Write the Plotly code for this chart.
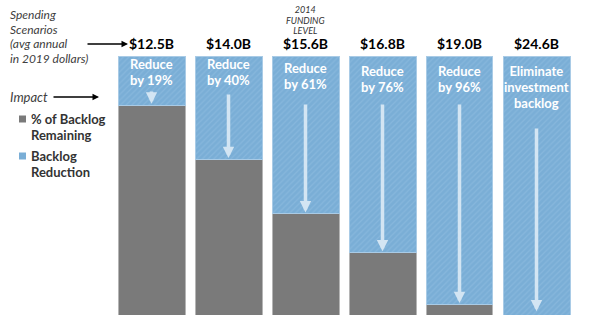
import plotly.graph_objects as go

scenarios = ["$12.5B", "$14.0B", "$15.6B", "$16.8B", "$19.0B", "$24.6B"]
reduction_pct = [19, 40, 61, 76, 96, 100]
remaining_pct = [81, 60, 39, 24, 4, 0]
bar_labels = [["Reduce", "by 19%"], ["Reduce", "by 40%"], ["Reduce", "by 61%"],
              ["Reduce", "by 76%"], ["Reduce", "by 96%"],
              ["Eliminate", "investment", "backlog"]]
funding_note = ["2014", "FUNDING", "LEVEL"]
funding_idx = 2
left_note = ["Spending", "Scenarios", "(avg annual", "in 2019 dollars)"]
legend_items = [["% of Backlog", "Remaining"], ["Backlog", "Reduction"]]

W, H = 589, 333
FONT = "Lato, 'Open Sans', sans-serif"
BLUE = "#7aaed6"
GRAY = "#7a7a7a"
ARROW = "#d3e5f3"

# style: pixel position of the first label line in each bar, and arrow tail (px)
label_top_px = [64, 64, 68, 71, 71, 71]
arrow_tail_px = [90, 93, 103, 103, 103, 127]
BAR_TOP, BAR_BOT = 56, 315

x = list(range(len(scenarios)))

fig = go.Figure()
fig.add_trace(go.Bar(
    x=x, y=remaining_pct, name="% of Backlog Remaining",
    marker=dict(color=GRAY, line=dict(color="#b5b5b5", width=1)),
    hoverinfo="skip",
))
fig.add_trace(go.Bar(
    x=x, y=reduction_pct, name="Backlog Reduction",
    marker=dict(color=BLUE, line=dict(color="#a9cbe6", width=1),
                pattern=dict(shape="/", fgcolor="#93c0e2", size=4, solidity=0.3,
                             fillmode="overlay")),
    hoverinfo="skip",
))

x0, x1 = 113 / W, 575 / W
y0, y1 = (H - BAR_BOT) / H, (H - BAR_TOP) / H


def py(px):
    return 1 - px / H


def px_to_val(px):
    return (BAR_BOT - px) / (BAR_BOT - BAR_TOP) * 100


annotations = []


def add_block(xv, xref, top_px, lines, spacing, size, color, xanchor="center",
              align="center", wrap=("", "")):
    """One annotation for several lines: line pitch set by the annotation font size,
    glyph size set by an inner span."""
    n = len(lines)
    body = "<br>".join(f'<span style="font-size:{size}px">{wrap[0]}{t}{wrap[1]}</span>'
                       for t in lines)
    annotations.append(dict(x=xv, y=py(top_px + (n - 1) * spacing / 2), xref=xref,
                            yref="paper", text=body, showarrow=False, xanchor=xanchor,
                            yanchor="middle", align=align, borderpad=0,
                            font=dict(family=FONT, size=spacing / 1.3, color=color)))


for i, (lab, rem) in enumerate(zip(bar_labels, remaining_pct)):
    add_block(i, "x", label_top_px[i], lab, 16, 13, "white", wrap=("<b>", "</b>"))
    annotations.append(dict(x=i, y=max(rem, 0.8) + 0.6, ax=i, ay=px_to_val(arrow_tail_px[i]),
                            xref="x", yref="y", axref="x", ayref="y", text="",
                            showarrow=True, arrowhead=2, arrowsize=0.65, arrowwidth=3.5,
                            arrowcolor=ARROW))

add_block(funding_idx, "x", 9.5, funding_note, 10.5, 9, "#333333", wrap=("<i>", "</i>"))

add_block(9 / W, "paper", 15, left_note, 14.5, 12, "#404040", xanchor="left",
          align="left", wrap=("<i>", "</i>"))
annotations.append(dict(x=128 / W, y=py(44), ax=-42, ay=0, xref="paper", yref="paper",
                        text="", showarrow=True, arrowhead=2, arrowsize=1, arrowwidth=1.3,
                        arrowcolor="black"))
add_block(9 / W, "paper", 97, ["Impact"], 14, 13, "#404040", xanchor="left",
          align="left", wrap=("<i>", "</i>"))
annotations.append(dict(x=99 / W, y=py(97), ax=-47, ay=0, xref="paper", yref="paper",
                        text="", showarrow=True, arrowhead=2, arrowsize=1, arrowwidth=1.3,
                        arrowcolor="black"))

# manual legend
shapes = []
legend_tops = [119, 156]
legend_colors = [GRAY, BLUE]
for (lines, top, col) in zip(legend_items, legend_tops, legend_colors):
    shapes.append(dict(type="rect", xref="paper", yref="paper",
                       x0=19 / W, x1=26 / W, y0=py(top + 3.5), y1=py(top - 3.5),
                       fillcolor=col, line=dict(width=0)))
    add_block(30 / W, "paper", top, lines, 16, 13, "#333333", xanchor="left",
              align="left", wrap=("<b>", "</b>"))

fig.update_layout(
    width=W, height=H,
    margin=dict(l=0, r=0, t=0, b=0),
    paper_bgcolor="white", plot_bgcolor="white",
    barmode="stack", bargap=0.13,
    font=dict(family=FONT, size=13, color="#222222"),
    showlegend=False,
    xaxis=dict(domain=[x0, x1], range=[-0.5, len(scenarios) - 0.5], side="top",
               tickmode="array", tickvals=x, ticktext=[f"<b>{s}</b>" for s in scenarios],
               tickfont=dict(family=FONT, size=14, color="black"),
               showgrid=False, zeroline=False, showline=False, ticks="",
               ticklabelstandoff=3),
    yaxis=dict(domain=[y0, y1], range=[0, 100], visible=False, showgrid=False),
    annotations=annotations,
    shapes=shapes,
)

fig.write_html("out.html")
